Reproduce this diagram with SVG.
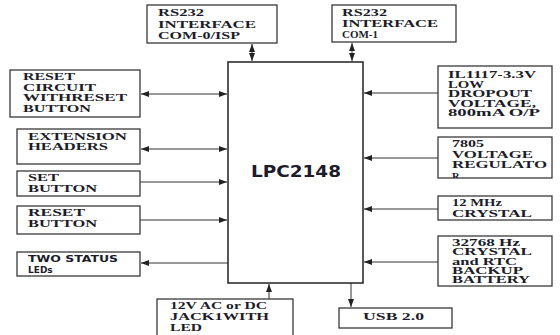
<svg xmlns="http://www.w3.org/2000/svg" width="560" height="335" viewBox="0 0 560 335">
<defs>
<style>
.box{fill:#fff;stroke:#3a3a3a;stroke-width:1.3}
.main{fill:#fff;stroke:#222;stroke-width:1.5}
.t{font-family:"Liberation Serif","Times New Roman",serif;font-weight:bold;font-size:10.5px;fill:#1c1c2a}
.sm{font-size:9.6px}
.s{font-family:"DejaVu Sans","Verdana",sans-serif;font-weight:bold;fill:#1c1c2a}
.c{stroke:#333;stroke-width:1;fill:none}
</style>
<marker id="ah" viewBox="0 0 8 6" refX="8" refY="3" markerWidth="8" markerHeight="6" markerUnits="userSpaceOnUse" orient="auto-start-reverse">
<path d="M0,0 L8,3 L0,6 Z" fill="#222"/>
</marker>
<clipPath id="clip7805"><rect x="438" y="137" width="114" height="41"/></clipPath>
</defs>

<g id="connectors">
<line class="c" x1="252" y1="44" x2="252" y2="61" marker-start="url(#ah)" marker-end="url(#ah)"/>
<line class="c" x1="352" y1="43" x2="352" y2="61" marker-start="url(#ah)" marker-end="url(#ah)"/>
<line class="c" x1="141" y1="94" x2="227" y2="94" marker-start="url(#ah)" marker-end="url(#ah)"/>
<line class="c" x1="141" y1="149" x2="227" y2="149" marker-start="url(#ah)" marker-end="url(#ah)"/>
<line class="c" x1="140" y1="182" x2="227" y2="182" marker-end="url(#ah)"/>
<line class="c" x1="140" y1="220" x2="227" y2="220" marker-end="url(#ah)"/>
<line class="c" x1="228" y1="263" x2="141" y2="263" marker-end="url(#ah)"/>
<line class="c" x1="269" y1="299" x2="269" y2="284" marker-end="url(#ah)"/>
<line class="c" x1="351" y1="283" x2="351" y2="307" marker-end="url(#ah)"/>
<line class="c" x1="438" y1="93" x2="364" y2="93" marker-end="url(#ah)"/>
<line class="c" x1="438" y1="158" x2="364" y2="158" marker-end="url(#ah)"/>
<line class="c" x1="438" y1="209" x2="364" y2="209" marker-end="url(#ah)"/>
<line class="c" x1="438" y1="262" x2="364" y2="262" marker-end="url(#ah)"/>
</g>

<g id="lpc2148">
<rect class="main" x="228" y="62" width="135" height="221"/>
<text class="s" x="251" y="177" font-size="15" textLength="90" lengthAdjust="spacingAndGlyphs">LPC2148</text>
</g>

<g id="com0">
<rect class="box" x="147" y="5" width="130" height="38"/>
<text class="t" x="158" y="16" textLength="46" lengthAdjust="spacingAndGlyphs">RS232</text>
<text class="t" x="158" y="27.5" textLength="98" lengthAdjust="spacingAndGlyphs">INTERFACE</text>
<text class="t" x="158" y="38.5" textLength="82" lengthAdjust="spacingAndGlyphs">COM-0/ISP</text>
</g>

<g id="com1">
<rect class="box" x="332" y="5" width="124" height="37"/>
<text class="t" x="342" y="16" textLength="45" lengthAdjust="spacingAndGlyphs">RS232</text>
<text class="t" x="342" y="27" textLength="96" lengthAdjust="spacingAndGlyphs">INTERFACE</text>
<text class="t" x="342" y="37.5" textLength="36" lengthAdjust="spacingAndGlyphs">COM-1</text>
</g>

<g id="reset-circuit">
<rect class="box" x="10" y="70" width="130" height="47"/>
<text class="t" x="23" y="80" textLength="52" lengthAdjust="spacingAndGlyphs">RESET</text>
<text class="t" x="23" y="90.5" textLength="73" lengthAdjust="spacingAndGlyphs">CIRCUIT</text>
<text class="t" x="23" y="101" textLength="104" lengthAdjust="spacingAndGlyphs">WITHRESET</text>
<text class="t" x="23" y="111.5" textLength="68" lengthAdjust="spacingAndGlyphs">BUTTON</text>
</g>

<g id="extension-headers">
<rect class="box" x="17" y="129" width="123" height="35"/>
<text class="t" x="28" y="139.5" textLength="99" lengthAdjust="spacingAndGlyphs">EXTENSION</text>
<text class="t" x="28" y="150" textLength="80" lengthAdjust="spacingAndGlyphs">HEADERS</text>
</g>

<g id="set-button">
<rect class="box" x="17" y="171" width="123" height="25"/>
<text class="t" x="28" y="181" textLength="31" lengthAdjust="spacingAndGlyphs">SET</text>
<text class="t" x="28" y="192" textLength="69" lengthAdjust="spacingAndGlyphs">BUTTON</text>
</g>

<g id="reset-button">
<rect class="box" x="17" y="206" width="123" height="28"/>
<text class="t" x="28" y="216" textLength="57" lengthAdjust="spacingAndGlyphs">RESET</text>
<text class="t" x="28" y="227" textLength="69" lengthAdjust="spacingAndGlyphs">BUTTON</text>
</g>

<g id="status-leds">
<rect class="box" x="17" y="252" width="123" height="24"/>
<text class="s" x="28" y="262" font-size="9" textLength="90" lengthAdjust="spacingAndGlyphs">TWO STATUS</text>
<text class="s" x="28" y="273" font-size="9">LEDs</text>
</g>

<g id="power-jack">
<rect class="box" x="157" y="299" width="136" height="38"/>
<text class="t" x="170" y="309" textLength="97" lengthAdjust="spacingAndGlyphs">12V AC or DC</text>
<text class="t" x="170" y="320" textLength="99" lengthAdjust="spacingAndGlyphs">JACK1WITH</text>
<text class="t" x="170" y="330.5" textLength="32" lengthAdjust="spacingAndGlyphs">LED</text>
</g>

<g id="usb">
<rect class="box" x="339" y="308" width="113" height="20"/>
<text class="t" x="363" y="320" textLength="61" lengthAdjust="spacingAndGlyphs">USB 2.0</text>
</g>

<g id="ldo">
<rect class="box" x="438" y="66" width="114" height="62"/>
<text class="t" x="448" y="78" textLength="88" lengthAdjust="spacingAndGlyphs">IL1117-3.3V</text>
<text class="t" x="448" y="87.5" textLength="36" lengthAdjust="spacingAndGlyphs">LOW</text>
<text class="t" x="448" y="97" textLength="84" lengthAdjust="spacingAndGlyphs">DROPOUT</text>
<text class="t" x="448" y="106.5" textLength="88" lengthAdjust="spacingAndGlyphs">VOLTAGE,</text>
<text class="t" x="448" y="116" textLength="92" lengthAdjust="spacingAndGlyphs">800mA O/P</text>
</g>

<g id="reg7805">
<rect class="box" x="438" y="137" width="114" height="41"/>
<g clip-path="url(#clip7805)">
<text class="t" x="452" y="147" textLength="32" lengthAdjust="spacingAndGlyphs">7805</text>
<text class="t" x="452" y="158" textLength="81" lengthAdjust="spacingAndGlyphs">VOLTAGE</text>
<text class="t" x="452" y="168" textLength="95" lengthAdjust="spacingAndGlyphs">REGULATO</text>
<text class="t" x="452" y="179.5">R</text>
</g>
</g>

<g id="crystal12">
<rect class="box" x="438" y="196" width="114" height="24"/>
<text class="t" x="452" y="205.5" textLength="50" lengthAdjust="spacingAndGlyphs">12 MHz</text>
<text class="t" x="452" y="216.5" textLength="80" lengthAdjust="spacingAndGlyphs">CRYSTAL</text>
</g>

<g id="rtc">
<rect class="box" x="438" y="236" width="114" height="50"/>
<text class="t sm" x="452" y="246" textLength="68" lengthAdjust="spacingAndGlyphs">32768 Hz</text>
<text class="t sm" x="452" y="255.3" textLength="80" lengthAdjust="spacingAndGlyphs">CRYSTAL</text>
<text class="t sm" x="452" y="264.6" textLength="65" lengthAdjust="spacingAndGlyphs">and RTC</text>
<text class="t sm" x="452" y="273.9" textLength="71" lengthAdjust="spacingAndGlyphs">BACKUP</text>
<text class="t sm" x="452" y="283.2" textLength="78" lengthAdjust="spacingAndGlyphs">BATTERY</text>
</g>
</svg>
